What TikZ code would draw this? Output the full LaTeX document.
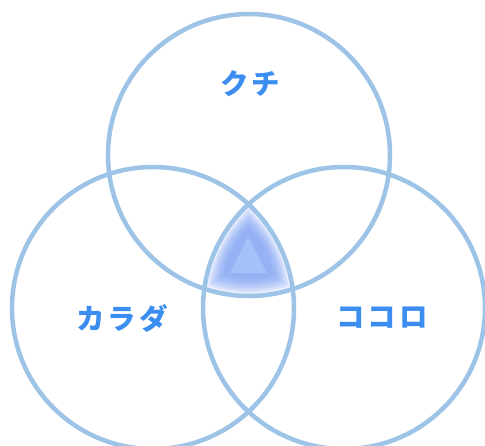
\documentclass[tikz,border=0pt]{standalone}
\usepackage{fontspec}
\newfontfamily\cjk[LetterSpace=10]{Noto Sans CJK JP}
\definecolor{ringc}{HTML}{9DC3E6}
\definecolor{txtc}{HTML}{3B8EF0}
\definecolor{glowc}{HTML}{7E9FF2}
\definecolor{tric}{HTML}{A9C4F9}
\begin{document}
\begin{tikzpicture}[x=1pt,y=-1pt,
  ring/.style={draw=ringc,line width=4.5pt},
  lab/.style={text=txtc,font=\cjk\bfseries\fontsize{28.5}{28.5}\selectfont,inner sep=0pt}]
\useasboundingbox (0,0) rectangle (485,445);
\begin{scope}
\clip (0,0) rectangle (485,445);
% glow in the common area
\foreach \s in {0.55,0.60,...,0.96}{
  \begin{scope}[shift={(249,257)},scale=\s,shift={(-249,-257)}]
    \clip (249,155) circle[radius=141];
    \clip (153,308) circle[radius=141];
    \fill[glowc,opacity=0.17] (344,308) circle[radius=141];
  \end{scope}
}
\fill[tric,opacity=0.85] (248,237) -- (230,273) -- (267,273) -- cycle;
\node[ring,circle,minimum size=282pt,inner sep=0pt] (kuchi) at (249,155) {};
\node[ring,circle,minimum size=282pt,inner sep=0pt] (karada) at (153,308) {};
\node[ring,circle,minimum size=282pt,inner sep=0pt] (kokoro) at (344,308) {};
\end{scope}
\node[lab] (t1) at (250,84) {クチ};
\node[lab] (t2) at (122,318) {カラダ};
\node[lab] (t3) at (382,318) {ココロ};
\end{tikzpicture}
\end{document}
